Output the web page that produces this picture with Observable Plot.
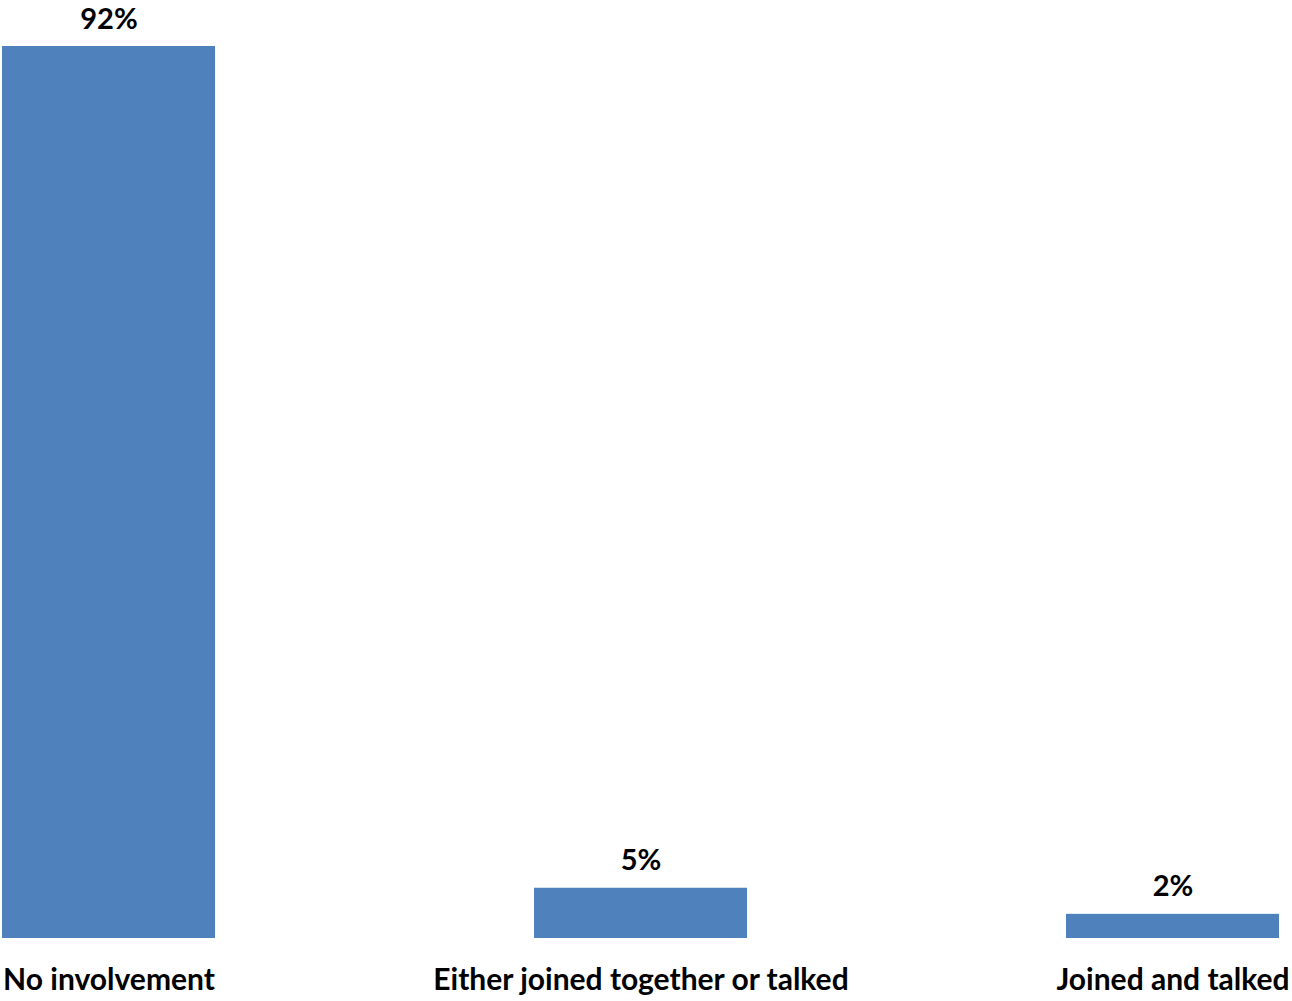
<!DOCTYPE html>
<html>
<head>
<meta charset="utf-8">
<script src="https://cdn.jsdelivr.net/npm/d3@7"></script>
<script src="https://cdn.jsdelivr.net/npm/@observablehq/plot@0.6"></script>
<style>
  html, body { margin: 0; padding: 0; background: #fff; }
  #chart svg { display: block; }
</style>
</head>
<body>
<div id="chart"></div>
<script>
const categories = ["No involvement", "Either joined together or talked", "Joined and talked"];
const values = [92.3, 5.2, 2.5];
const labels = ["92%", "5%", "2%"];

const data = categories.map((c, i) => ({category: c, value: values[i], label: labels[i]}));

const chart = Plot.plot({
  width: 1292,
  height: 1001,
  marginLeft: 1,
  marginRight: 13,
  marginTop: 46,
  marginBottom: 63,
  style: {fontFamily: "Lato, 'Open Sans', sans-serif", fontWeight: "bold", fontSize: "30px", color: "#000", background: "#fff"},
  x: {domain: categories, paddingInner: 0.6, paddingOuter: 0, label: null},
  y: {domain: [0, d3.max(values)], axis: null},
  marks: [
    Plot.barY(data, {x: "category", y: "value", fill: "#4F81BD"}),
    Plot.text(data, {x: "category", y: "value", text: "label", lineAnchor: "bottom", dy: -18, fontSize: 29, fontWeight: "bold", fill: "#000"}),
    Plot.axisX({tickSize: 0, tickPadding: 30, fontSize: 30, fontWeight: "bold", fill: "#000", label: null})
  ]
});
document.getElementById("chart").appendChild(chart);
</script>
</body>
</html>
